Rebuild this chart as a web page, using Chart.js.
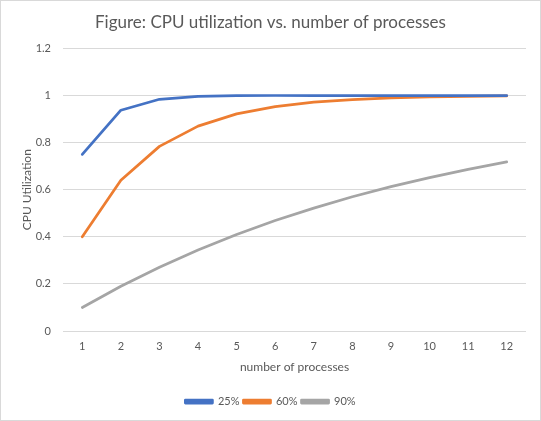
<!DOCTYPE html>
<html><head><meta charset="utf-8">
<script src="https://cdn.jsdelivr.net/npm/chart.js@4"></script>
<style>html,body{margin:0;padding:0;background:#fff}#wrap{width:541px;height:421px;position:relative}</style>
</head><body><div id="wrap"><canvas id="c" width="541" height="421"></canvas></div>
<script>
const categories = ['1','2','3','4','5','6','7','8','9','10','11','12'];
const s25 = [0.75,0.9375,0.984,0.996,0.999,1.0,1.0,1.0,1.0,1.0,1.0,1.0];
const s60 = [0.40,0.64,0.784,0.870,0.922,0.953,0.972,0.983,0.990,0.994,0.996,0.998];
const s90 = [0.10,0.19,0.271,0.344,0.410,0.469,0.522,0.570,0.613,0.651,0.686,0.718];
const seriesNames = ['25%','60%','90%'];
const yTicks = [0,0.2,0.4,0.6,0.8,1,1.2];
const txt = '#595959';
const FONT = 'Lato, "Open Sans", sans-serif';
const border = {id:'border', afterDraw(c){const g=c.ctx;g.save();g.strokeStyle='#d9d9d9';g.lineWidth=1;g.strokeRect(0.5,0.5,540,420);g.restore();}};
new Chart(document.getElementById('c'), {
  type:'line',
  data:{labels:categories, datasets:[
    {label:seriesNames[0], data:s25, borderColor:'#4472C4', backgroundColor:'#4472C4'},
    {label:seriesNames[1], data:s60, borderColor:'#ED7D31', backgroundColor:'#ED7D31'},
    {label:seriesNames[2], data:s90, borderColor:'#A5A5A5', backgroundColor:'#A5A5A5'}
  ]},
  options:{
    responsive:false, animation:false,
    elements:{point:{radius:0}, line:{borderWidth:2.75, tension:0, borderCapStyle:'round', borderJoinStyle:'round'}},
    layout:{padding:{left:15,right:15,top:0,bottom:4}},
    plugins:{
      title:{display:true, text:'Figure: CPU utilization vs. number of processes', color:txt, font:{family:FONT,size:17,weight:'normal'}, padding:{top:12,bottom:16}},
      legend:{position:'bottom', labels:{color:txt, font:{family:FONT,size:11}, boxWidth:27, boxHeight:3, padding:4}},
      tooltip:{enabled:false}
    },
    scales:{
      x:{offset:true, grid:{display:false, drawTicks:false}, border:{display:false},
         ticks:{color:txt, font:{family:FONT,size:11}, padding:9, maxRotation:0},
         title:{display:true, text:'number of processes', color:txt, font:{family:FONT,size:12}, padding:{top:18,bottom:18}},
         afterFit(s){s.height=61;}},
      y:{min:0, max:1.2, afterBuildTicks(s){s.ticks=yTicks.map(v=>({value:v}));},
         grid:{color:'#d9d9d9', drawTicks:false}, border:{display:false},
         ticks:{color:txt, font:{family:FONT,size:11}, padding:12, callback:(v)=>String(Math.round(v*10)/10)},
         title:{display:true, text:'CPU Utilization', color:txt, font:{family:FONT,size:12}, padding:{top:5,bottom:5}},
         afterFit(s){s.width=48;}}
    }
  },
  plugins:[border]
});
</script></body></html>
